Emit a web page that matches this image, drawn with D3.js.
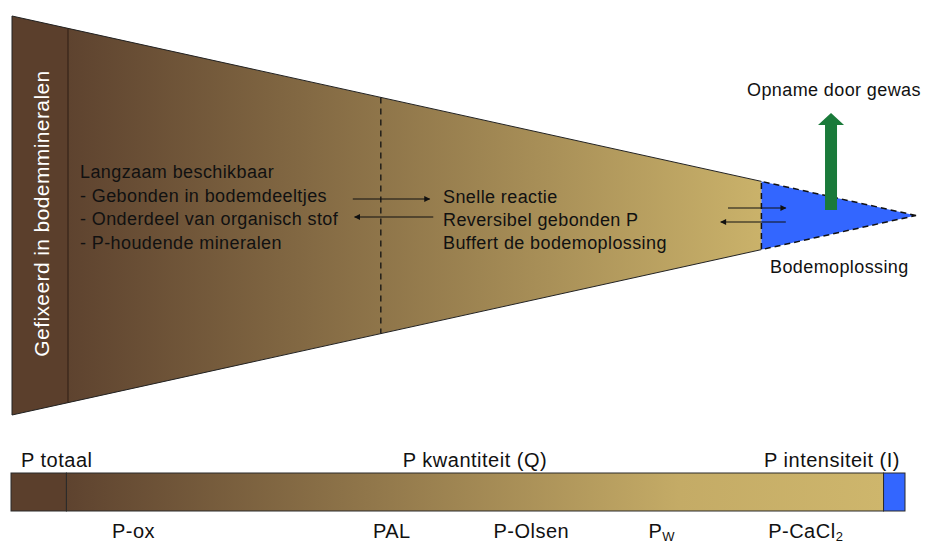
<!DOCTYPE html>
<html>
    <head>
        <title>Fosfaat in de bodem</title>
        <script src="https://d3js.org/d3.v7.min.js"></script>
        <style>
            * {
                margin: 0;
                padding: 0;
                box-sizing: border-box;
            }

            body {
                background-color: #ffffff;
                overflow: hidden;
            }

            svg {
                display: block;
                font-family: 'Liberation Sans', Arial, sans-serif;
            }

            .label {
                font-size: 18px;
                fill: #111;
                letter-spacing: 0.4px;
            }

            .bar-label {
                font-size: 20px;
                fill: #111;
                letter-spacing: 0.5px;
            }
        </style>
    </head>
    <body>
        <script>
            // wedge sections, positions in % of the wedge length (0 = left edge, 100 = apex)
            const wedgeSections = [
                { name: 'gefixeerd', from: 0, to: 6.2 },
                { name: 'kwantiteit', from: 6.2, to: 82.9 },
                { name: 'oplossing', from: 82.9, to: 100 },
            ];
            const dashedAt = 40.8;

            const leftLines = ['Langzaam beschikbaar', '- Gebonden in bodemdeeltjes', '- Onderdeel van organisch stof', '- P-houdende mineralen'];
            const midLines = ['Snelle reactie', 'Reversibel gebonden P', 'Buffert de bodemoplossing'];

            // exchange arrows: [from, to] along the wedge
            const midArrows = [
                [37.7, 46.2],
                [46.6, 37.9],
            ];
            const solArrows = [
                [79.2, 85.6],
                [85.6, 78.4],
            ];
            const uptakeAt = 90.6;

            // bottom bar: sections and method labels (0..100 along the bar)
            const barSections = [
                { name: 'totaal', from: 0, to: 6.2 },
                { name: 'kwantiteit', from: 6.2, to: 97.6 },
                { name: 'intensiteit', from: 97.6, to: 100 },
            ];
            const methods = [
                { text: 'P-ox', at: 13.7 },
                { text: 'PAL', at: 42.6 },
                { text: 'P-Olsen', at: 58.2 },
                { text: 'P', sub: 'W', at: 72.8 },
                { text: 'P-CaCl', sub: '2', at: 88.9 },
            ];

            const width = 925;
            const height = 543;
            const dark = '#5b3f2c';
            const light = '#cab26a';
            const blue = '#3366ff';

            const svg = d3.select('body').append('svg').attr('width', width).attr('height', height);

            const x = d3.scaleLinear().domain([0, 100]).range([12, 916]);
            const cy = 215.5;
            const half = d3.scaleLinear().domain([0, 100]).range([199.5, 0]);
            const yTop = (t) => cy - half(t);
            const yBot = (t) => cy + half(t);

            const defs = svg.append('defs');
            const grad = defs.append('linearGradient').attr('id', 'wedgeGrad').attr('gradientUnits', 'userSpaceOnUse').attr('x1', x(6.2)).attr('x2', x(82.9)).attr('y1', 0).attr('y2', 0);
            grad.append('stop').attr('offset', 0).attr('stop-color', '#5e432f');
            grad.append('stop').attr('offset', 1).attr('stop-color', light);

            defs.append('marker')
                .attr('id', 'head')
                .attr('viewBox', '0 0 10 10')
                .attr('refX', 9)
                .attr('refY', 5)
                .attr('markerWidth', 8)
                .attr('markerHeight', 6)
                .attr('markerUnits', 'userSpaceOnUse')
                .attr('orient', 'auto')
                .append('path')
                .attr('d', 'M0,0L10,5L0,10Z')
                .attr('fill', '#111');

            const fills = { gefixeerd: dark, kwantiteit: 'url(#wedgeGrad)', oplossing: blue };

            const section = (s) => `M${x(s.from)},${yTop(s.from)}L${x(s.to)},${yTop(s.to)}L${x(s.to)},${yBot(s.to)}L${x(s.from)},${yBot(s.from)}Z`;

            svg.append('g')
                .selectAll('path')
                .data(wedgeSections)
                .join('path')
                .attr('d', section)
                .attr('fill', (d) => fills[d.name]);

            // outline of the solid part
            const solidEnd = wedgeSections[1].to;
            svg.append('path')
                .attr('d', `M${x(solidEnd)},${yTop(solidEnd)}L${x(0)},${yTop(0)}L${x(0)},${yBot(0)}L${x(solidEnd)},${yBot(solidEnd)}`)
                .attr('fill', 'none')
                .attr('stroke', '#222')
                .attr('stroke-width', 1);

            svg.append('line')
                .attr('x1', x(6.2))
                .attr('x2', x(6.2))
                .attr('y1', yTop(6.2))
                .attr('y2', yBot(6.2))
                .attr('stroke', '#2a1a10')
                .attr('stroke-width', 1);

            // dashed outline of the solution
            svg.append('path')
                .attr('d', `M${x(100)},${cy}L${x(solidEnd)},${yTop(solidEnd)}L${x(solidEnd)},${yBot(solidEnd)}Z`)
                .attr('fill', 'none')
                .attr('stroke', '#111')
                .attr('stroke-width', 1.5)
                .attr('stroke-dasharray', '6,4');

            svg.append('line')
                .attr('x1', x(dashedAt))
                .attr('x2', x(dashedAt))
                .attr('y1', yTop(dashedAt))
                .attr('y2', yBot(dashedAt))
                .attr('stroke', '#111')
                .attr('stroke-width', 1.3)
                .attr('stroke-dasharray', '6,5');

            svg.append('text')
                .attr('transform', `translate(${x(0) + 37},${cy - 2}) rotate(-90)`)
                .attr('text-anchor', 'middle')
                .attr('fill', '#fff')
                .style('font-size', '21px')
                .style('letter-spacing', '0.4px')
                .text('Gefixeerd in bodemmineralen');

            svg.append('g')
                .selectAll('text')
                .data(leftLines)
                .join('text')
                .attr('class', 'label')
                .attr('x', 80)
                .attr('y', (d, i) => 178 + i * 23.5)
                .text((d) => d);

            svg.append('g')
                .selectAll('text')
                .data(midLines)
                .join('text')
                .attr('class', 'label')
                .attr('x', 443)
                .attr('y', (d, i) => 203 + i * 23)
                .text((d) => d);

            const arrows = svg.append('g').attr('stroke', '#111').attr('stroke-width', 1.2);
            arrows
                .selectAll('.mid')
                .data(midArrows)
                .join('line')
                .attr('x1', (d) => x(d[0]))
                .attr('x2', (d) => x(d[1]))
                .attr('y1', (d, i) => 199 + i * 18)
                .attr('y2', (d, i) => 199 + i * 18)
                .attr('marker-end', 'url(#head)');
            arrows
                .selectAll('.sol')
                .data(solArrows)
                .join('line')
                .attr('x1', (d) => x(d[0]))
                .attr('x2', (d) => x(d[1]))
                .attr('y1', (d, i) => 208 + i * 14)
                .attr('y2', (d, i) => 208 + i * 14)
                .attr('marker-end', 'url(#head)');

            // uptake arrow
            const ux = x(uptakeAt);
            svg.append('path')
                .attr('d', `M${ux - 6},210L${ux - 6},125L${ux - 13},125L${ux},113L${ux + 13},125L${ux + 6},125L${ux + 6},210Z`)
                .attr('fill', '#1a7a3a');

            svg.append('text').attr('class', 'label').attr('x', 747).attr('y', 96).text('Opname door gewas');
            svg.append('text').attr('class', 'label').attr('x', 770).attr('y', 273).text('Bodemoplossing');

            // bottom bar
            const bx = d3.scaleLinear().domain([0, 100]).range([11, 905]);
            const barTop = 473;
            const barH = 38;

            const barGrad = defs.append('linearGradient').attr('id', 'barGrad').attr('gradientUnits', 'userSpaceOnUse').attr('x1', bx(6.2)).attr('x2', bx(97.6)).attr('y1', 0).attr('y2', 0);
            barGrad.append('stop').attr('offset', 0).attr('stop-color', '#5e432f');
            barGrad.append('stop').attr('offset', 0.75).attr('stop-color', '#c4ab66');
            barGrad.append('stop').attr('offset', 1).attr('stop-color', '#ceb66c');

            const barFills = { totaal: dark, kwantiteit: 'url(#barGrad)', intensiteit: blue };
            svg.append('g')
                .selectAll('rect')
                .data(barSections)
                .join('rect')
                .attr('x', (d) => bx(d.from))
                .attr('y', barTop)
                .attr('width', (d) => bx(d.to) - bx(d.from))
                .attr('height', barH)
                .attr('fill', (d) => barFills[d.name])
                .attr('stroke', '#2a2a2a')
                .attr('stroke-width', 1);

            svg.append('text').attr('class', 'bar-label').attr('x', 21).attr('y', 467).text('P totaal');
            svg.append('text').attr('class', 'bar-label').attr('x', 475).attr('y', 467).attr('text-anchor', 'middle').text('P kwantiteit (Q)');
            svg.append('text').attr('class', 'bar-label').attr('x', 900).attr('y', 467).attr('text-anchor', 'end').text('P intensiteit (I)');

            const mt = svg
                .append('g')
                .selectAll('text')
                .data(methods)
                .join('text')
                .attr('class', 'bar-label')
                .attr('x', (d) => bx(d.at))
                .attr('y', 538)
                .attr('text-anchor', 'middle');
            mt.append('tspan').text((d) => d.text);
            mt.filter((d) => d.sub)
                .append('tspan')
                .attr('dy', 3)
                .style('font-size', '13px')
                .text((d) => d.sub);
        </script>
    </body>
</html>
